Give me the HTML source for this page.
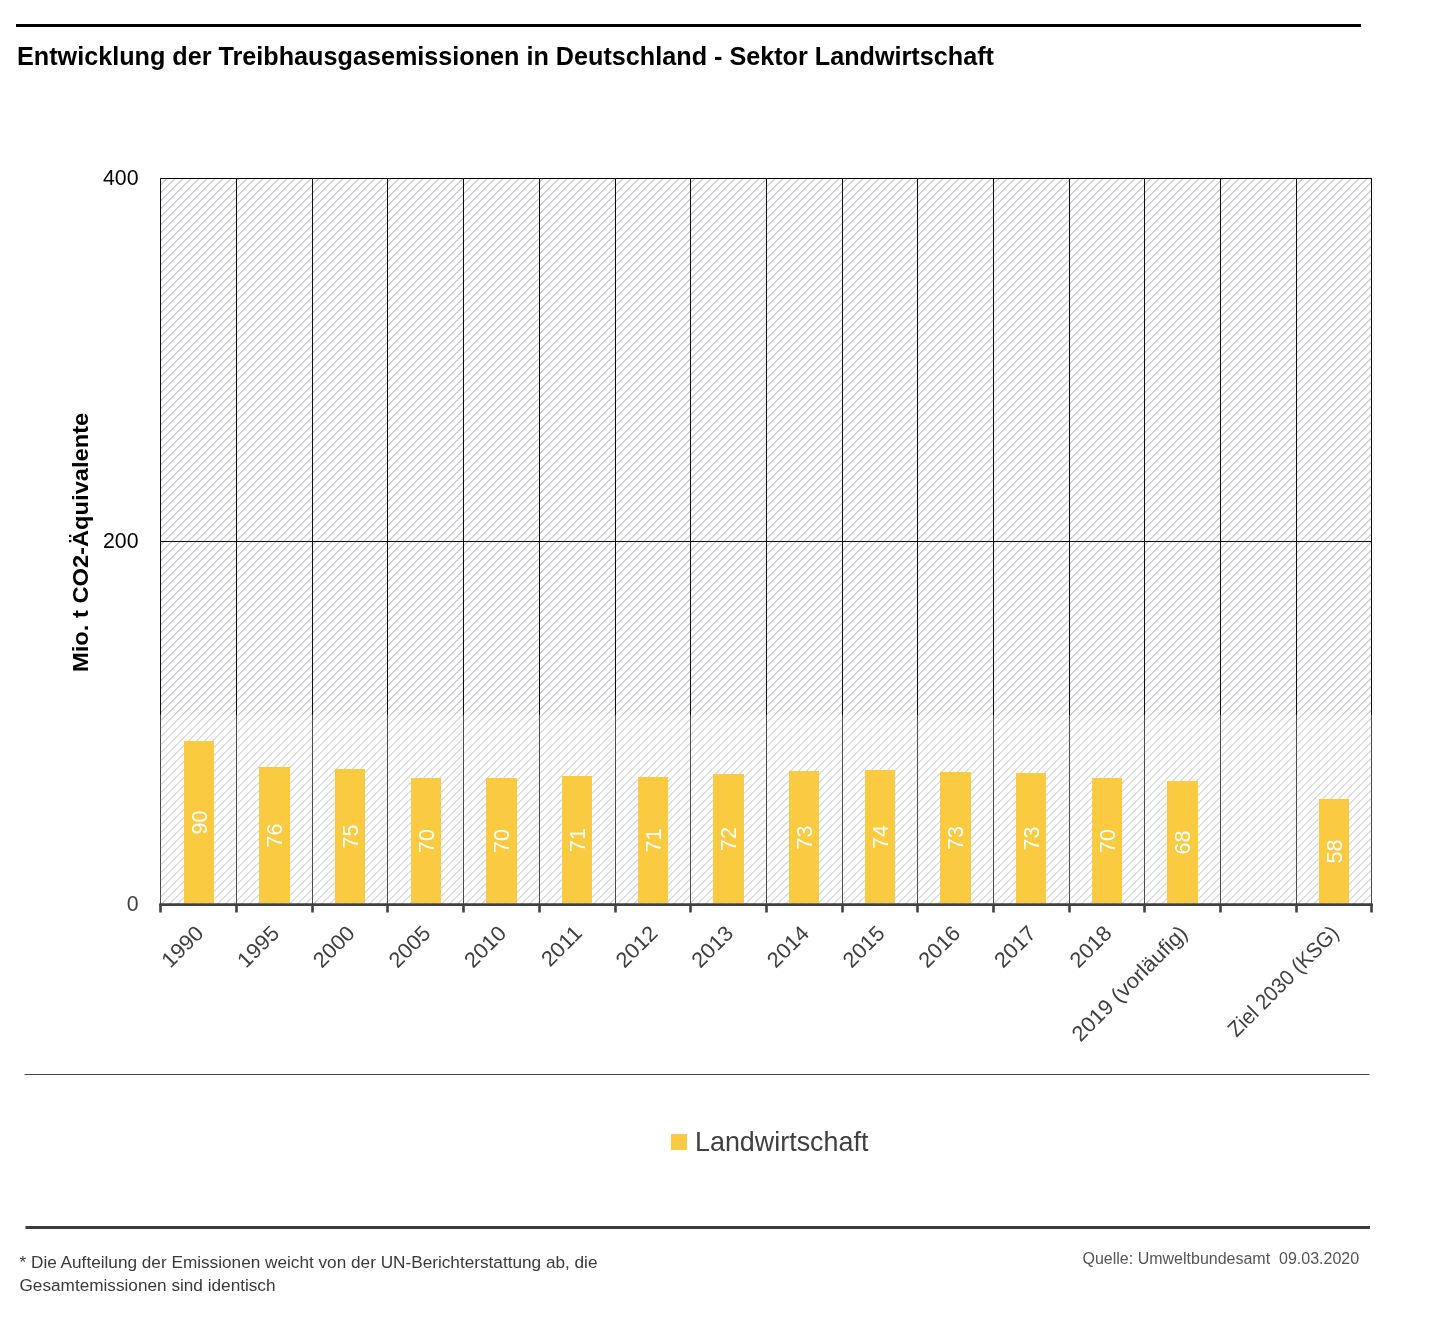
<!DOCTYPE html>
<html><head><meta charset="utf-8"><style>
html,body{margin:0;padding:0;background:#fff;}
body{width:1434px;height:1318px;position:relative;overflow:hidden;font-family:"Liberation Sans", sans-serif;}
svg{position:absolute;left:0;top:0;will-change:transform;}
svg text{font-family:"Liberation Sans", sans-serif;}
</style></head><body>
<svg width="1434" height="1318" viewBox="0 0 1434 1318">
<defs>
<pattern id="hatch" patternUnits="userSpaceOnUse" width="8" height="8" x="0" y="0">
<path d="M-1,2.5 L2.5,-1 M0.5,9 L9,0.5" stroke="#c0c3c7" stroke-width="1.1"/>
</pattern>
<pattern id="hatch2" patternUnits="userSpaceOnUse" width="8" height="8" x="0" y="0">
<path d="M-1,2.5 L2.5,-1 M0.5,9 L9,0.5" stroke="#d0d3d6" stroke-width="1.15"/>
</pattern>
</defs>
<rect x="16" y="24" width="1345" height="3" fill="#000"/>
<text x="17" y="65" font-size="25.2" font-weight="bold" fill="#000">Entwicklung der Treibhausgasemissionen in Deutschland - Sektor Landwirtschaft</text>
<rect x="160" y="178" width="1212" height="537" fill="url(#hatch)"/>
<rect x="160" y="715" width="1212" height="189" fill="url(#hatch2)"/>
<rect x="184" y="741" width="30" height="162.0" fill="#FACB40"/>
<rect x="259" y="767" width="31" height="136.0" fill="#FACB40"/>
<rect x="335" y="769" width="30" height="134.0" fill="#FACB40"/>
<rect x="411" y="778" width="30" height="125.0" fill="#FACB40"/>
<rect x="486" y="778" width="31" height="125.0" fill="#FACB40"/>
<rect x="562" y="776" width="30" height="127.0" fill="#FACB40"/>
<rect x="638" y="777" width="30" height="126.0" fill="#FACB40"/>
<rect x="713" y="774" width="31" height="129.0" fill="#FACB40"/>
<rect x="789" y="771" width="30" height="132.0" fill="#FACB40"/>
<rect x="865" y="770" width="30" height="133.0" fill="#FACB40"/>
<rect x="940" y="772" width="31" height="131.0" fill="#FACB40"/>
<rect x="1016" y="773" width="30" height="130.0" fill="#FACB40"/>
<rect x="1092" y="778" width="30" height="125.0" fill="#FACB40"/>
<rect x="1167" y="781" width="31" height="122.0" fill="#FACB40"/>
<rect x="1319" y="799" width="30" height="104.0" fill="#FACB40"/>
<rect x="160" y="715" width="1" height="189.0" fill="#4c4c4c"/>
<rect x="160" y="178" width="1" height="537" fill="#0a0a0a"/>
<rect x="236" y="715" width="1" height="189.0" fill="#4c4c4c"/>
<rect x="236" y="178" width="1" height="537" fill="#0a0a0a"/>
<rect x="312" y="715" width="1" height="189.0" fill="#4c4c4c"/>
<rect x="312" y="178" width="1" height="537" fill="#0a0a0a"/>
<rect x="387" y="715" width="1" height="189.0" fill="#4c4c4c"/>
<rect x="387" y="178" width="1" height="537" fill="#0a0a0a"/>
<rect x="463" y="715" width="1" height="189.0" fill="#4c4c4c"/>
<rect x="463" y="178" width="1" height="537" fill="#0a0a0a"/>
<rect x="539" y="715" width="1" height="189.0" fill="#4c4c4c"/>
<rect x="539" y="178" width="1" height="537" fill="#0a0a0a"/>
<rect x="615" y="715" width="1" height="189.0" fill="#4c4c4c"/>
<rect x="615" y="178" width="1" height="537" fill="#0a0a0a"/>
<rect x="690" y="715" width="1" height="189.0" fill="#4c4c4c"/>
<rect x="690" y="178" width="1" height="537" fill="#0a0a0a"/>
<rect x="766" y="715" width="1" height="189.0" fill="#4c4c4c"/>
<rect x="766" y="178" width="1" height="537" fill="#0a0a0a"/>
<rect x="842" y="715" width="1" height="189.0" fill="#4c4c4c"/>
<rect x="842" y="178" width="1" height="537" fill="#0a0a0a"/>
<rect x="917" y="715" width="1" height="189.0" fill="#4c4c4c"/>
<rect x="917" y="178" width="1" height="537" fill="#0a0a0a"/>
<rect x="993" y="715" width="1" height="189.0" fill="#4c4c4c"/>
<rect x="993" y="178" width="1" height="537" fill="#0a0a0a"/>
<rect x="1069" y="715" width="1" height="189.0" fill="#4c4c4c"/>
<rect x="1069" y="178" width="1" height="537" fill="#0a0a0a"/>
<rect x="1144" y="715" width="1" height="189.0" fill="#4c4c4c"/>
<rect x="1144" y="178" width="1" height="537" fill="#0a0a0a"/>
<rect x="1220" y="715" width="1" height="189.0" fill="#4c4c4c"/>
<rect x="1220" y="178" width="1" height="537" fill="#0a0a0a"/>
<rect x="1296" y="715" width="1" height="189.0" fill="#4c4c4c"/>
<rect x="1296" y="178" width="1" height="537" fill="#0a0a0a"/>
<rect x="1371" y="715" width="1" height="189.0" fill="#4c4c4c"/>
<rect x="1371" y="178" width="1" height="537" fill="#0a0a0a"/>
<rect x="160" y="178" width="1212" height="1" fill="#0a0a0a"/>
<rect x="160" y="541" width="1212" height="1" fill="#0a0a0a"/>
<line x1="159.3" y1="904.6" x2="1372.7" y2="904.6" stroke="#404040" stroke-width="2.6"/>
<line x1="160.50" y1="904.0" x2="160.50" y2="912.5" stroke="#404040" stroke-width="2.6"/>
<line x1="236.50" y1="904.0" x2="236.50" y2="912.5" stroke="#404040" stroke-width="2.6"/>
<line x1="312.50" y1="904.0" x2="312.50" y2="912.5" stroke="#404040" stroke-width="2.6"/>
<line x1="387.50" y1="904.0" x2="387.50" y2="912.5" stroke="#404040" stroke-width="2.6"/>
<line x1="463.50" y1="904.0" x2="463.50" y2="912.5" stroke="#404040" stroke-width="2.6"/>
<line x1="539.50" y1="904.0" x2="539.50" y2="912.5" stroke="#404040" stroke-width="2.6"/>
<line x1="615.50" y1="904.0" x2="615.50" y2="912.5" stroke="#404040" stroke-width="2.6"/>
<line x1="690.50" y1="904.0" x2="690.50" y2="912.5" stroke="#404040" stroke-width="2.6"/>
<line x1="766.50" y1="904.0" x2="766.50" y2="912.5" stroke="#404040" stroke-width="2.6"/>
<line x1="842.50" y1="904.0" x2="842.50" y2="912.5" stroke="#404040" stroke-width="2.6"/>
<line x1="917.50" y1="904.0" x2="917.50" y2="912.5" stroke="#404040" stroke-width="2.6"/>
<line x1="993.50" y1="904.0" x2="993.50" y2="912.5" stroke="#404040" stroke-width="2.6"/>
<line x1="1069.50" y1="904.0" x2="1069.50" y2="912.5" stroke="#404040" stroke-width="2.6"/>
<line x1="1144.50" y1="904.0" x2="1144.50" y2="912.5" stroke="#404040" stroke-width="2.6"/>
<line x1="1220.50" y1="904.0" x2="1220.50" y2="912.5" stroke="#404040" stroke-width="2.6"/>
<line x1="1296.50" y1="904.0" x2="1296.50" y2="912.5" stroke="#404040" stroke-width="2.6"/>
<line x1="1371.50" y1="904.0" x2="1371.50" y2="912.5" stroke="#404040" stroke-width="2.6"/>
<text x="0" y="0" transform="translate(206.70,822.50) rotate(-90) scale(1,1.05)" text-anchor="middle" font-size="21.5" fill="#fff">90</text>
<text x="0" y="0" transform="translate(282.20,835.50) rotate(-90) scale(1,1.05)" text-anchor="middle" font-size="21.5" fill="#fff">76</text>
<text x="0" y="0" transform="translate(357.70,836.50) rotate(-90) scale(1,1.05)" text-anchor="middle" font-size="21.5" fill="#fff">75</text>
<text x="0" y="0" transform="translate(433.70,841.00) rotate(-90) scale(1,1.05)" text-anchor="middle" font-size="21.5" fill="#fff">70</text>
<text x="0" y="0" transform="translate(509.20,841.00) rotate(-90) scale(1,1.05)" text-anchor="middle" font-size="21.5" fill="#fff">70</text>
<text x="0" y="0" transform="translate(584.70,840.00) rotate(-90) scale(1,1.05)" text-anchor="middle" font-size="21.5" fill="#fff">71</text>
<text x="0" y="0" transform="translate(660.70,840.50) rotate(-90) scale(1,1.05)" text-anchor="middle" font-size="21.5" fill="#fff">71</text>
<text x="0" y="0" transform="translate(736.20,839.00) rotate(-90) scale(1,1.05)" text-anchor="middle" font-size="21.5" fill="#fff">72</text>
<text x="0" y="0" transform="translate(811.70,837.50) rotate(-90) scale(1,1.05)" text-anchor="middle" font-size="21.5" fill="#fff">73</text>
<text x="0" y="0" transform="translate(887.70,837.00) rotate(-90) scale(1,1.05)" text-anchor="middle" font-size="21.5" fill="#fff">74</text>
<text x="0" y="0" transform="translate(963.20,838.00) rotate(-90) scale(1,1.05)" text-anchor="middle" font-size="21.5" fill="#fff">73</text>
<text x="0" y="0" transform="translate(1038.70,838.50) rotate(-90) scale(1,1.05)" text-anchor="middle" font-size="21.5" fill="#fff">73</text>
<text x="0" y="0" transform="translate(1114.70,841.00) rotate(-90) scale(1,1.05)" text-anchor="middle" font-size="21.5" fill="#fff">70</text>
<text x="0" y="0" transform="translate(1190.20,842.50) rotate(-90) scale(1,1.05)" text-anchor="middle" font-size="21.5" fill="#fff">68</text>
<text x="0" y="0" transform="translate(1341.70,851.50) rotate(-90) scale(1,1.05)" text-anchor="middle" font-size="21.5" fill="#fff">58</text>
<text transform="translate(204.84,934.5) rotate(-45)" text-anchor="end" font-size="21.5" textLength="48.79" lengthAdjust="spacingAndGlyphs" fill="#404040">1990</text>
<text transform="translate(280.53,934.5) rotate(-45)" text-anchor="end" font-size="21.5" textLength="48.79" lengthAdjust="spacingAndGlyphs" fill="#404040">1995</text>
<text transform="translate(356.22,934.5) rotate(-45)" text-anchor="end" font-size="21.5" textLength="48.79" lengthAdjust="spacingAndGlyphs" fill="#404040">2000</text>
<text transform="translate(431.91,934.5) rotate(-45)" text-anchor="end" font-size="21.5" textLength="48.79" lengthAdjust="spacingAndGlyphs" fill="#404040">2005</text>
<text transform="translate(507.59,934.5) rotate(-45)" text-anchor="end" font-size="21.5" textLength="48.79" lengthAdjust="spacingAndGlyphs" fill="#404040">2010</text>
<text transform="translate(583.28,934.5) rotate(-45)" text-anchor="end" font-size="21.5" textLength="47.16" lengthAdjust="spacingAndGlyphs" fill="#404040">2011</text>
<text transform="translate(658.97,934.5) rotate(-45)" text-anchor="end" font-size="21.5" textLength="48.79" lengthAdjust="spacingAndGlyphs" fill="#404040">2012</text>
<text transform="translate(734.66,934.5) rotate(-45)" text-anchor="end" font-size="21.5" textLength="48.79" lengthAdjust="spacingAndGlyphs" fill="#404040">2013</text>
<text transform="translate(810.34,934.5) rotate(-45)" text-anchor="end" font-size="21.5" textLength="48.79" lengthAdjust="spacingAndGlyphs" fill="#404040">2014</text>
<text transform="translate(886.03,934.5) rotate(-45)" text-anchor="end" font-size="21.5" textLength="48.79" lengthAdjust="spacingAndGlyphs" fill="#404040">2015</text>
<text transform="translate(961.72,934.5) rotate(-45)" text-anchor="end" font-size="21.5" textLength="48.79" lengthAdjust="spacingAndGlyphs" fill="#404040">2016</text>
<text transform="translate(1037.41,934.5) rotate(-45)" text-anchor="end" font-size="21.5" textLength="48.79" lengthAdjust="spacingAndGlyphs" fill="#404040">2017</text>
<text transform="translate(1113.09,934.5) rotate(-45)" text-anchor="end" font-size="21.5" textLength="48.79" lengthAdjust="spacingAndGlyphs" fill="#404040">2018</text>
<text transform="translate(1188.78,934.5) rotate(-45)" text-anchor="end" font-size="21.5" textLength="153.12" lengthAdjust="spacingAndGlyphs" fill="#404040">2019 (vorläufig)</text>
<text transform="translate(1340.16,934.5) rotate(-45)" text-anchor="end" font-size="21.5" textLength="146.44" lengthAdjust="spacingAndGlyphs" fill="#404040">Ziel 2030 (KSG)</text>
<text x="138.5" y="185" text-anchor="end" font-size="21.3" fill="#000">400</text>
<text x="138.5" y="548" text-anchor="end" font-size="21.3" fill="#000">200</text>
<text x="138.5" y="911" text-anchor="end" font-size="21.3" fill="#404040">0</text>
<text transform="translate(87.6,542.4) rotate(-90)" text-anchor="middle" font-size="22" font-weight="bold" textLength="259.34" lengthAdjust="spacingAndGlyphs" fill="#000">Mio. t CO2-Äquivalente</text>
<rect x="24.5" y="1074" width="1345" height="1" fill="#454545"/>
<rect x="671" y="1134" width="16" height="16" fill="#FACB40"/>
<text x="695" y="1151" font-size="26.9" fill="#404040">Landwirtschaft</text>
<rect x="25.5" y="1226" width="1344.5" height="3" fill="#3c3c3c"/>
<text x="19.5" y="1268" font-size="17.2" fill="#3a3a3a">* Die Aufteilung der Emissionen weicht von der UN-Berichterstattung ab, die</text>
<text x="19.5" y="1291" font-size="17.2" fill="#3a3a3a">Gesamtemissionen sind identisch</text>
<text x="1082.5" y="1264" font-size="16" fill="#555">Quelle: Umweltbundesamt&#160; 09.03.2020</text>
</svg>
</body></html>
